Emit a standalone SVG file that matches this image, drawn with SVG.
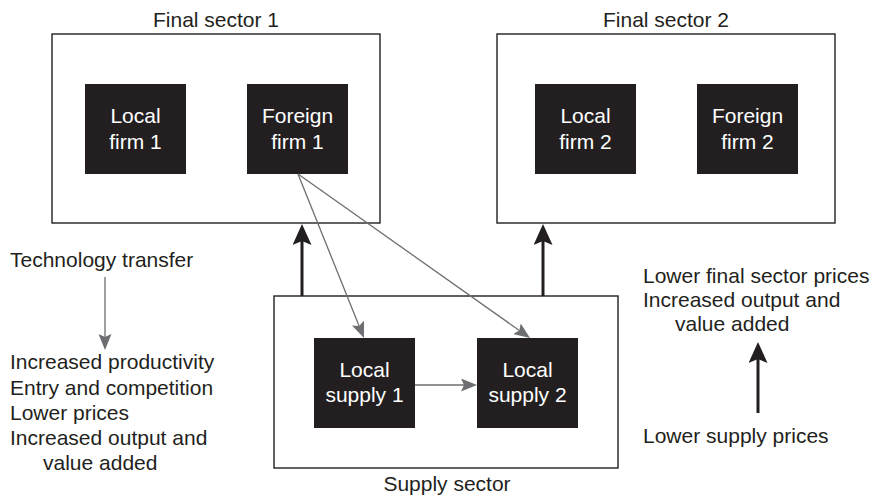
<svg xmlns="http://www.w3.org/2000/svg" width="875" height="496" viewBox="0 0 875 496">
<style>
text{font-family:"Liberation Sans",Arial,sans-serif;font-size:21px;fill:#231f20}
.sector{fill:#fff;stroke:#231f20;stroke-width:1.4}
.firm{fill:#231f20;stroke:none}
.firm-t{fill:#fff;text-anchor:middle}
.mid{text-anchor:middle}
.thin{stroke:#6d6e71;stroke-width:1.3;fill:none}
.thick{stroke:#231f20;stroke-width:3;fill:none}
</style>
<defs>
<marker id="ag" markerUnits="userSpaceOnUse" markerWidth="16" markerHeight="13" refX="3" refY="6.5" orient="auto" viewBox="0 0 16 13">
<path d="M0,0 L16,6.5 L0,13 L3,6.5 Z" fill="#6d6e71"/>
</marker>
<marker id="ab" markerUnits="userSpaceOnUse" markerWidth="21" markerHeight="19" refX="4" refY="9.5" orient="auto" viewBox="0 0 21 19">
<path d="M0,0 L21,9.5 L0,19 L4,9.5 Z" fill="#231f20"/>
</marker>
</defs>

<g id="final-sector-1">
<rect class="sector" x="52" y="34" width="328" height="189"/>
<text class="mid" x="216" y="27">Final sector 1</text>
</g>
<g id="local-firm-1">
<rect class="firm" x="85" y="84" width="101" height="90"/>
<text class="firm-t" x="135.5" y="123">Local</text>
<text class="firm-t" x="135.5" y="149">firm 1</text>
</g>
<g id="foreign-firm-1">
<rect class="firm" x="247" y="84" width="101" height="90"/>
<text class="firm-t" x="297.5" y="123">Foreign</text>
<text class="firm-t" x="297.5" y="149">firm 1</text>
</g>

<g id="final-sector-2">
<rect class="sector" x="497" y="34" width="338" height="189"/>
<text class="mid" x="666" y="27">Final sector 2</text>
</g>
<g id="local-firm-2">
<rect class="firm" x="535" y="84" width="101" height="90"/>
<text class="firm-t" x="585.5" y="123">Local</text>
<text class="firm-t" x="585.5" y="149">firm 2</text>
</g>
<g id="foreign-firm-2">
<rect class="firm" x="697" y="84" width="101" height="90"/>
<text class="firm-t" x="747.5" y="123">Foreign</text>
<text class="firm-t" x="747.5" y="149">firm 2</text>
</g>

<g id="supply-sector">
<rect class="sector" x="274" y="296" width="344" height="172"/>
<text class="mid" x="447" y="491">Supply sector</text>
</g>
<g id="local-supply-1">
<rect class="firm" x="314" y="338" width="101" height="90"/>
<text class="firm-t" x="364.5" y="377">Local</text>
<text class="firm-t" x="364.5" y="402">supply 1</text>
</g>
<g id="local-supply-2">
<rect class="firm" x="477" y="338" width="101" height="90"/>
<text class="firm-t" x="527.5" y="377">Local</text>
<text class="firm-t" x="527.5" y="402">supply 2</text>
</g>

<g id="left-notes">
<text x="10" y="267">Technology transfer</text>
<text x="10" y="369">Increased productivity</text>
<text x="10" y="395">Entry and competition</text>
<text x="10" y="420">Lower prices</text>
<text x="10" y="445">Increased output and</text>
<text x="43" y="470">value added</text>
</g>
<g id="right-notes">
<text x="643" y="283">Lower final sector prices</text>
<text x="643" y="307">Increased output and</text>
<text x="675" y="331">value added</text>
<text x="643" y="443">Lower supply prices</text>
</g>

<g id="connectors">
<line class="thin" x1="298" y1="174" x2="359.1" y2="325.9" marker-end="url(#ag)"/>
<line class="thin" x1="298" y1="174" x2="519.4" y2="330.5" marker-end="url(#ag)"/>
<line class="thin" x1="415" y1="385" x2="464" y2="385" marker-end="url(#ag)"/>
<line class="thin" x1="105" y1="277" x2="105" y2="337" marker-end="url(#ag)"/>
<line class="thick" x1="302" y1="296" x2="302" y2="241" marker-end="url(#ab)"/>
<line class="thick" x1="543" y1="296" x2="543" y2="241" marker-end="url(#ab)"/>
<line class="thick" x1="758" y1="413" x2="758" y2="359" marker-end="url(#ab)"/>
</g>
</svg>
